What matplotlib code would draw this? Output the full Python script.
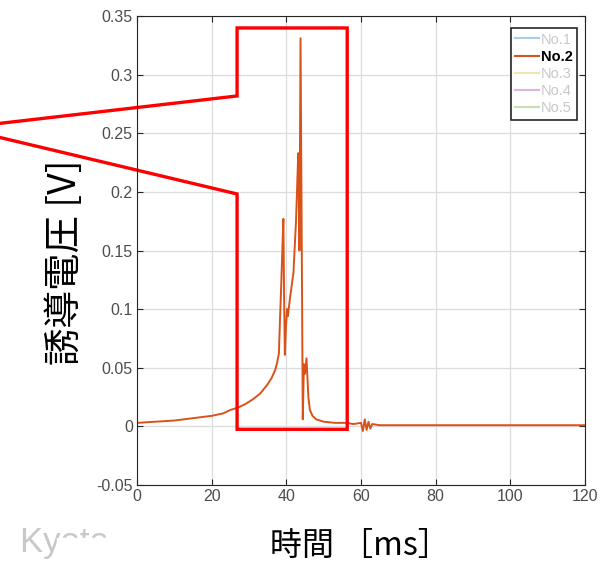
import matplotlib
matplotlib.use("Agg")
import matplotlib.pyplot as plt
from matplotlib.lines import Line2D
from matplotlib.patches import Rectangle
from matplotlib.ticker import FormatStrFormatter

plt.rcParams['font.family'] = ['Liberation Sans', 'Noto Sans CJK JP', 'DejaVu Sans']

# measured waveform No.2 (time in ms, voltage in V)
time_ms = [0, 5, 10, 15, 20, 23, 25, 27, 29, 31, 33, 35, 36, 37, 37.5, 38,
           38.3, 38.6, 38.9, 39.2, 39.4, 39.6, 39.9, 40.2, 40.4, 41.0, 41.9,
           42.6, 43.0, 43.2, 43.5, 43.8, 44.4, 44.7, 45.0, 45.4, 45.9, 46.3,
           47, 48, 50, 53, 56, 58, 60, 60.5, 61, 61.5, 62, 62.5, 63, 65, 70,
           80, 90, 100, 110, 120]
volt = [0.003, 0.004, 0.005, 0.007, 0.009, 0.011, 0.014, 0.016, 0.019, 0.023,
        0.028, 0.036, 0.041, 0.048, 0.054, 0.062, 0.091, 0.118, 0.148, 0.177,
        0.110, 0.061, 0.085, 0.100, 0.094, 0.110, 0.131, 0.176, 0.215, 0.233,
        0.150, 0.331, 0.006, 0.053, 0.045, 0.058, 0.025, 0.014, 0.009, 0.006,
        0.004, 0.003, 0.003, 0.002, 0.003, -0.004, 0.006, -0.003, 0.004,
        -0.002, 0.002, 0.001, 0.001, 0.001, 0.001, 0.001, 0.001, 0.001]

legend_names = ["No.1", "No.2", "No.3", "No.4", "No.5"]
legend_line_colors = ["#a9cce9", "#d95319", "#f8e2b2", "#d8b8e0", "#c6e0ad"]
legend_text_colors = ["#c8c8c8", "#000000", "#c8c8c8", "#c8c8c8", "#c8c8c8"]

xticks = [0, 20, 40, 60, 80, 100, 120]
yticks = [-0.05, 0, 0.05, 0.1, 0.15, 0.2, 0.25, 0.3, 0.35]

fig = plt.figure(figsize=(6.02, 5.69), dpi=100)
ax = fig.add_axes([0.2276, 0.1476, 0.7442, 0.8243])

ax.plot(time_ms, volt, color="#d95319", lw=1.4)

ax.set_xlim(0, 120)
ax.set_ylim(-0.05, 0.35)
ax.set_xticks(xticks)
ax.set_yticks(yticks)
ax.yaxis.set_major_formatter(FormatStrFormatter('%g'))
ax.grid(True, color="#dcdcdc", lw=0.9)
ax.set_axisbelow(True)
ax.tick_params(direction="in", top=True, right=True, labelsize=11.5,
               labelcolor="#4d4d4d", color="#262626", length=4, pad=3)
for s in ax.spines.values():
    s.set_color("#262626")
    s.set_linewidth(0.8)

handles = [Line2D([], [], color=c, lw=1.5) for c in legend_line_colors]
leg = ax.legend(handles, legend_names, loc="upper right",
                bbox_to_anchor=(0.982, 0.974), borderaxespad=0, fontsize=10.5,
                handlelength=1.6, handletextpad=0.15, labelspacing=0.22,
                borderpad=0.3, fancybox=False, framealpha=1)
leg.get_frame().set_edgecolor("#262626")
leg.get_frame().set_linewidth(1.2)
for i, (txt, c) in enumerate(zip(leg.get_texts(), legend_text_colors)):
    txt.set_color(c)
    if i == 1:
        txt.set_fontweight("bold")

# red zoom callout
apex_x, apex_y = -47.4, 0.2545
rx0, rx1, ry0, ry1 = 26.8, 56.3, -0.0025, 0.3398
ax.plot([apex_x, rx0, rx0, rx1, rx1, rx0, rx0, apex_x],
        [apex_y, 0.2818, ry1, ry1, ry0, ry0, 0.1982, apex_y],
        color="red", lw=2.4, clip_on=False, solid_joinstyle="miter")

fig.text(66 / 602, 1 - 262 / 569, "誘導電圧 [V]", rotation=90,
         ha="center", va="center", fontsize=27,
         family=["Noto Sans CJK JP", "DejaVu Sans"])
fig.text(360 / 602, 1 - 546 / 569, "時間 ［ms］", ha="center", va="center",
         fontsize=23, family=["Noto Sans CJK JP", "DejaVu Sans"])

# partly hidden logo text
fig.text(20 / 602, 1 - 552 / 569, "Kyoto U", color="#c8c8c8", fontsize=25,
         ha="left", va="baseline")
fig.add_artist(Rectangle((57 / 602, 0), 100 / 602, 1 - 538 / 569,
                         transform=fig.transFigure, color="white", zorder=5))
fig.add_artist(Rectangle((106 / 602, 0), 50 / 602, 1 - 520 / 569,
                         transform=fig.transFigure, color="white", zorder=5))

fig.savefig("out.png", dpi=100)
